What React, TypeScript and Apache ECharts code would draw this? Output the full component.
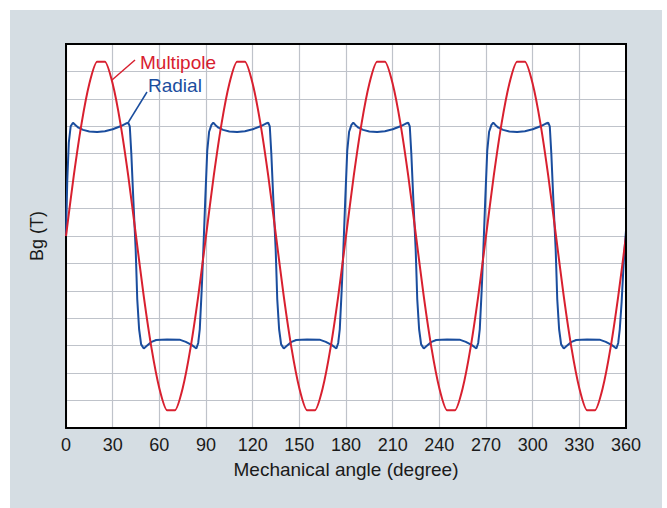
import React, { useEffect, useRef } from "react";
import * as echarts from "echarts";

const xTickStep = 30;
const xMin = 0;
const xMax = 360;

const redAngles = [
  0, 5, 10, 15, 20, 25, 30, 35, 40, 45, 50, 55, 60, 65, 70, 75, 80, 85,
  90, 95, 100, 105, 110, 115, 120, 125, 130, 135, 140, 145, 150, 155, 160, 165, 170, 175,
  180, 185, 190, 195, 200, 205, 210, 215, 220, 225, 230, 235, 240, 245, 250, 255, 260, 265,
  270, 275, 280, 285, 290, 295, 300, 305, 310, 315, 320, 325, 330, 335, 340, 345, 350, 355, 360,
];
const redValues = [
  0, 0.22, 0.41, 0.555, 0.635, 0.635, 0.555, 0.41, 0.22, 0, -0.22, -0.41, -0.555, -0.635, -0.635, -0.555, -0.41, -0.22,
  0, 0.22, 0.41, 0.555, 0.635, 0.635, 0.555, 0.41, 0.22, 0, -0.22, -0.41, -0.555, -0.635, -0.635, -0.555, -0.41, -0.22,
  0, 0.22, 0.41, 0.555, 0.635, 0.635, 0.555, 0.41, 0.22, 0, -0.22, -0.41, -0.555, -0.635, -0.635, -0.555, -0.41, -0.22,
  0, 0.22, 0.41, 0.555, 0.635, 0.635, 0.555, 0.41, 0.22, 0, -0.22, -0.41, -0.555, -0.635, -0.635, -0.555, -0.41, -0.22, 0,
];

const blueAngles = [
  0, 0.8, 1.8, 3, 4.5, 6, 8, 11, 15, 20, 25, 30, 35, 38.5, 40, 41, 42, 43.3, 44.8, 45.8, 47, 48.3, 50, 52, 55, 58, 65, 73, 77, 81, 83.8, 85, 86, 87.2, 88.3, 89.5, 90.8, 92, 93.5, 94.7,
  96, 98, 101, 105, 110, 115, 120, 125, 128.5, 130, 131, 132, 133.3, 134.8, 135.8, 137, 138.3, 140, 142, 145, 148, 155, 163, 167, 171, 173.8, 175, 176, 177.2, 178.3, 179.5, 180.8, 182, 183.5, 184.7,
  186, 188, 191, 195, 200, 205, 210, 215, 218.5, 220, 221, 222, 223.3, 224.8, 225.8, 227, 228.3, 230, 232, 235, 238, 245, 253, 257, 261, 263.8, 265, 266, 267.2, 268.3, 269.5, 270.8, 272, 273.5, 274.7,
  276, 278, 281, 285, 290, 295, 300, 305, 308.5, 310, 311, 312, 313.3, 314.8, 315.8, 317, 318.3, 320, 322, 325, 328, 335, 343, 347, 351, 353.8, 355, 356, 357.2, 358.3, 359.3, 360,
];
const blueValues = [
  0, 0.2, 0.34, 0.4, 0.413, 0.405, 0.395, 0.387, 0.381, 0.379, 0.382, 0.389, 0.4, 0.41, 0.413, 0.4, 0.3, 0.13, -0.05, -0.23, -0.34, -0.395, -0.41, -0.4, -0.386, -0.379, -0.377, -0.378, -0.386, -0.398, -0.41, -0.39, -0.34, -0.2, -0.05, 0.13, 0.31, 0.38, 0.405, 0.413,
  0.405, 0.395, 0.387, 0.381, 0.379, 0.382, 0.389, 0.4, 0.41, 0.413, 0.4, 0.3, 0.13, -0.05, -0.23, -0.34, -0.395, -0.41, -0.4, -0.386, -0.379, -0.377, -0.378, -0.386, -0.398, -0.41, -0.39, -0.34, -0.2, -0.05, 0.13, 0.31, 0.38, 0.405, 0.413,
  0.405, 0.395, 0.387, 0.381, 0.379, 0.382, 0.389, 0.4, 0.41, 0.413, 0.4, 0.3, 0.13, -0.05, -0.23, -0.34, -0.395, -0.41, -0.4, -0.386, -0.379, -0.377, -0.378, -0.386, -0.398, -0.41, -0.39, -0.34, -0.2, -0.05, 0.13, 0.31, 0.38, 0.405, 0.413,
  0.405, 0.395, 0.387, 0.381, 0.379, 0.382, 0.389, 0.4, 0.41, 0.413, 0.4, 0.3, 0.13, -0.05, -0.23, -0.34, -0.395, -0.41, -0.4, -0.386, -0.379, -0.377, -0.378, -0.386, -0.398, -0.41, -0.39, -0.34, -0.24, -0.12, -0.03, 0.02,
];

const RED = "#d8202f";
const BLUE = "#1a4d9e";
const FONT = "'Liberation Sans', Arial, sans-serif";

export default function App() {
  const ref = useRef<HTMLDivElement>(null);
  useEffect(() => {
    if (!ref.current) return;
    const chart = echarts.init(ref.current, undefined, { renderer: "svg" });
    const redData = redAngles.map((a, i) => [a, redValues[i]]);
    const blueData = blueAngles.map((a, i) => [a, blueValues[i]]);
    chart.setOption({
      animation: false,
      backgroundColor: "transparent",
      textStyle: { fontFamily: FONT },
      grid: {
        left: 66,
        top: 44,
        right: 41,
        bottom: 80,
        show: true,
        backgroundColor: "#ffffff",
        borderColor: "#000",
        borderWidth: 0,
      },
      xAxis: {
        type: "value",
        min: xMin,
        max: xMax,
        interval: xTickStep,
        name: "Mechanical angle (degree)",
        nameLocation: "middle",
        nameGap: 32,
        nameTextStyle: { fontSize: 19, color: "#1a1a1a", fontFamily: FONT },
        axisLine: { show: true, onZero: false, lineStyle: { color: "#000", width: 2 } },
        axisTick: { show: false },
        axisLabel: { fontSize: 18, color: "#1a1a1a", margin: 8, fontFamily: FONT },
        splitLine: { show: true, lineStyle: { color: "#bfc3ca", width: 1.2 } },
      },
      yAxis: {
        type: "value",
        min: -0.7,
        max: 0.7,
        interval: 0.1,
        name: "Bg (T)",
        nameLocation: "middle",
        nameGap: 20,
        nameTextStyle: { fontSize: 18, color: "#1a1a1a", fontFamily: FONT },
        axisLine: { show: true, onZero: false, lineStyle: { color: "#000", width: 2 } },
        axisTick: { show: false },
        axisLabel: { show: false },
        splitLine: { show: true, lineStyle: { color: "#bfc3ca", width: 1.2 } },
      },
      series: [
        {
          name: "Radial",
          type: "line",
          data: blueData,
          showSymbol: false,
          lineStyle: { color: BLUE, width: 2 },
          z: 3,
        },
        {
          name: "Multipole",
          type: "line",
          data: redData,
          showSymbol: false,
          smooth: 0.2,
          lineStyle: { color: RED, width: 2 },
          z: 4,
        },
      ],
      graphic: [
        {
          type: "line",
          shape: { x1: 65, y1: 44, x2: 627, y2: 44 },
          style: { stroke: "#000", lineWidth: 2 },
          z: 100,
        },
        {
          type: "line",
          shape: { x1: 626, y1: 43, x2: 626, y2: 429 },
          style: { stroke: "#000", lineWidth: 2 },
          z: 100,
        },
        {
          type: "text",
          x: 140,
          y: 62,
          style: { text: "Multipole", fill: RED, font: `19px ${FONT}`, textVerticalAlign: "middle" },
          z: 100,
        },
        {
          type: "line",
          shape: { x1: 135, y1: 60, x2: 112, y2: 80 },
          style: { stroke: RED, lineWidth: 1.5 },
          z: 100,
        },
        {
          type: "text",
          x: 148,
          y: 85,
          style: { text: "Radial", fill: BLUE, font: `19px ${FONT}`, textVerticalAlign: "middle" },
          z: 100,
        },
        {
          type: "line",
          shape: { x1: 147, y1: 92, x2: 128.5, y2: 122 },
          style: { stroke: BLUE, lineWidth: 1.5 },
          z: 100,
        },
      ],
    });
    return () => chart.dispose();
  }, []);
  return (
    <div style={{ position: "fixed", left: 0, top: 0, width: 667, height: 508, background: "#ffffff" }}>
      <div
        style={{ position: "absolute", left: 10, top: 10, width: 652, height: 498, background: "#d5dde3" }}
      />
      <div ref={ref} style={{ position: "absolute", left: 0, top: 0, width: 667, height: 508 }} />
    </div>
  );
}
